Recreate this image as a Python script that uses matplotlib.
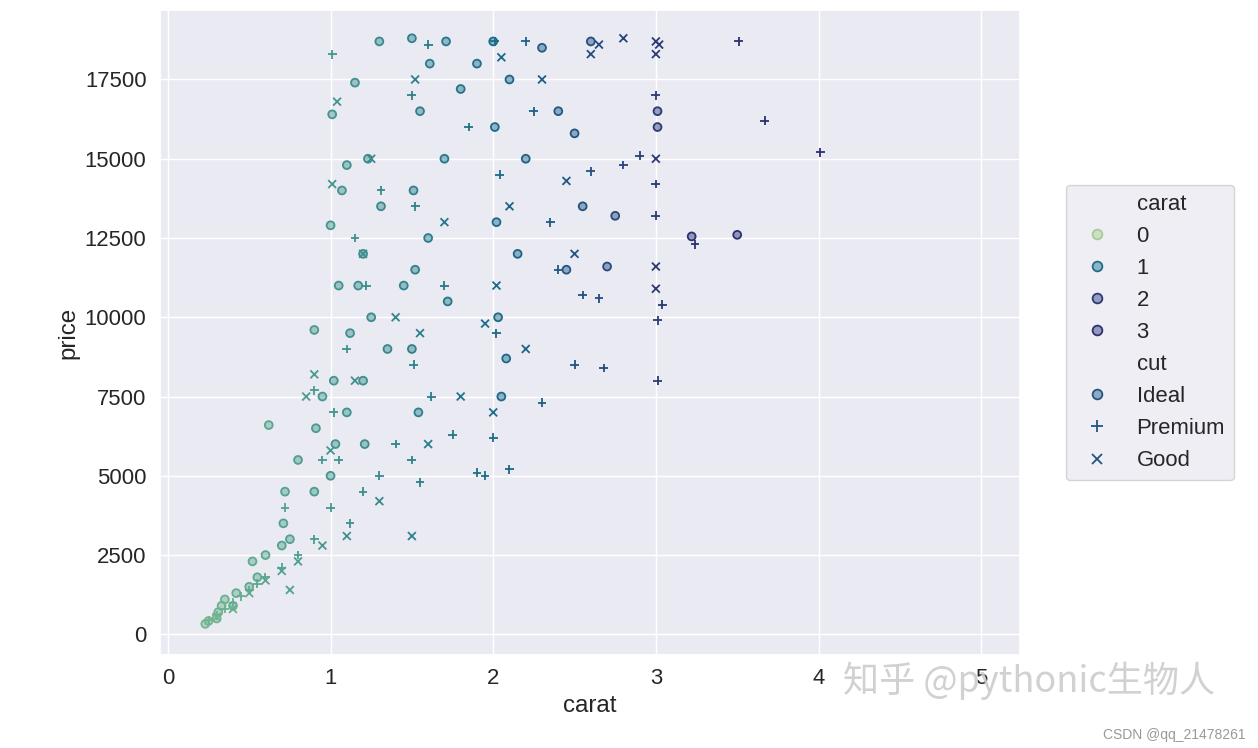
import matplotlib
matplotlib.use("Agg")
import matplotlib.pyplot as plt
from matplotlib.lines import Line2D
import seaborn as sns

# hand-read sample of the diamonds scatter, per cut
ideal_carat = [0.23, 0.25, 0.3, 0.31, 0.33, 0.35, 0.4, 0.42, 0.5, 0.52, 0.55, 0.6, 0.62, 0.7, 0.71, 0.72, 0.75, 0.8,
               0.9, 0.9, 0.91, 1.0, 1.0, 1.01, 1.02, 1.03, 1.05, 1.1, 1.1, 1.12, 1.15, 1.2, 1.2, 1.21, 1.23, 1.25,
               1.3, 1.31, 1.35, 1.5, 1.5, 1.51, 1.52, 1.54, 1.55, 1.6, 1.61, 1.7, 1.71, 1.72, 2.0, 2.01, 2.02, 2.03,
               2.05, 2.1, 2.2, 2.3, 2.4, 2.5, 2.55, 2.6, 2.75, 3.01, 3.01, 3.22, 3.5, 2.08, 1.45, 1.8, 1.9, 2.15,
               2.45, 2.7, 0.95, 1.07, 1.17]
ideal_price = [330, 420, 500, 700, 900, 1100, 900, 1300, 1500, 2300, 1800, 2500, 6600, 2800, 3500, 4500, 3000, 5500,
               4500, 9600, 6500, 5000, 12900, 16400, 8000, 6000, 11000, 14800, 7000, 9500, 17400, 12000, 8000, 6000,
               15000, 10000, 18700, 13500, 9000, 18800, 9000, 14000, 11500, 7000, 16500, 12500, 18000, 15000, 18700,
               10500, 18700, 16000, 13000, 10000, 7500, 17500, 15000, 18500, 16500, 15800, 13500, 18700, 13200,
               16000, 16500, 12550, 12600, 8700, 11000, 17200, 18000, 12000, 11500, 11600, 7500, 14000, 11000]

premium_carat = [0.25, 0.3, 0.35, 0.4, 0.45, 0.5, 0.55, 0.6, 0.7, 0.72, 0.8, 0.9, 0.9, 1.0, 1.01, 1.02, 1.05, 1.1,
                 1.12, 1.2, 1.22, 1.3, 1.31, 1.4, 1.5, 1.5, 1.51, 1.52, 1.55, 1.6, 1.62, 1.7, 1.75, 1.9, 1.95, 2.0,
                 2.01, 2.02, 2.04, 2.1, 2.2, 2.3, 2.4, 2.5, 2.55, 2.6, 2.65, 2.68, 2.8, 2.9, 3.0, 3.0, 3.0, 3.01,
                 3.01, 3.04, 3.24, 3.51, 3.67, 4.01, 2.25, 2.35, 1.85, 1.15, 0.95]
premium_price = [450, 600, 800, 1000, 1200, 1400, 1600, 1800, 2100, 4000, 2500, 3000, 7700, 4000, 18300, 7000, 5500,
                 9000, 3500, 4500, 11000, 5000, 14000, 6000, 5500, 17000, 8500, 13500, 4800, 18600, 7500, 11000,
                 6300, 5100, 5000, 6200, 18700, 9500, 14500, 5200, 18700, 7300, 11500, 8500, 10700, 14600, 10600,
                 8400, 14800, 15100, 17000, 14200, 13200, 9900, 8000, 10400, 12300, 18700, 16200, 15200, 16500,
                 13000, 16000, 12500, 5500]

good_carat = [0.3, 0.4, 0.5, 0.6, 0.7, 0.75, 0.8, 0.9, 0.95, 1.0, 1.01, 1.04, 1.1, 1.15, 1.2, 1.3, 1.4, 1.5, 1.52,
              1.55, 1.6, 1.7, 1.8, 1.95, 2.0, 2.02, 2.05, 2.1, 2.2, 2.3, 2.5, 2.6, 2.65, 2.8, 3.0, 3.0, 3.0, 3.0,
              3.0, 3.02, 2.45, 1.25, 0.85]
good_price = [550, 800, 1300, 1700, 2000, 1400, 2300, 8200, 2800, 5800, 14200, 16800, 3100, 8000, 12000, 4200,
              10000, 3100, 17500, 9500, 6000, 13000, 7500, 9800, 7000, 11000, 18200, 13500, 9000, 17500, 12000,
              18300, 18600, 18800, 18700, 18300, 15000, 11600, 10900, 18600, 14300, 15000, 7500]

legend_carats = [0, 1, 2, 3]

sns.set_theme(style="darkgrid", font_scale=1.45)
plt.rcParams['font.family'] = ['Liberation Sans', 'DejaVu Sans']
cmap = sns.color_palette("crest", as_cmap=True)
norm = plt.Normalize(-0.4, 3.2, clip=True)

fig = plt.figure(figsize=(12.58, 7.48), dpi=100)
ax = fig.add_axes([0.127, 0.124, 0.684, 0.863])

ax.scatter(ideal_carat, ideal_price, marker="o", s=32,
           facecolors=[(*cmap(norm(c))[:3], 0.45) for c in ideal_carat],
           edgecolors=[cmap(norm(c)) for c in ideal_carat], linewidths=1.3)
ax.scatter(premium_carat, premium_price, marker="+", s=40, c=premium_carat, cmap=cmap, norm=norm, linewidths=1.3)
ax.scatter(good_carat, good_price, marker="x", s=32, c=good_carat, cmap=cmap, norm=norm, linewidths=1.3)

ax.set_xlim(-0.05, 5.24)
ax.set_ylim(-660, 19700)
ax.set_xticks([0, 1, 2, 3, 4, 5])
ax.set_yticks(range(0, 17501, 2500))
ax.set_xlabel("carat")
ax.set_ylabel("price")

handles = [Line2D([], [], linestyle="", label="carat")]
for c in legend_carats:
    col = cmap(0.0) if c == 0 else cmap(min(1.0, 0.35 + 0.3 * c))
    handles.append(Line2D([], [], linestyle="", marker="o", markersize=7, markerfacecolor=(*col[:3], 0.45),
                          markeredgecolor=col, markeredgewidth=1.3, label=str(c)))
handles.append(Line2D([], [], linestyle="", label="cut"))
mid = cmap(0.8)
handles.append(Line2D([], [], linestyle="", marker="o", markersize=7, markerfacecolor=(*mid[:3], 0.45),
                      markeredgecolor=mid, markeredgewidth=1.3, label="Ideal"))
handles.append(Line2D([], [], linestyle="", marker="+", markersize=8, color=mid, markeredgewidth=1.3, label="Premium"))
handles.append(Line2D([], [], linestyle="", marker="x", markersize=7, color=mid, markeredgewidth=1.3, label="Good"))
leg = ax.legend(handles=handles, loc="center left", bbox_to_anchor=(1.04, 0.5), frameon=True, handletextpad=0.8)

fig.text(0.67, 0.075, "知乎 @pythonic生物人", fontsize=26, color="#cccccc",
         family=['Noto Sans CJK SC', 'DejaVu Sans'], alpha=0.9)
fig.text(0.99, 0.012, "CSDN @qq_21478261", fontsize=10, color="#999999", ha="right")

fig.savefig("out.png")
